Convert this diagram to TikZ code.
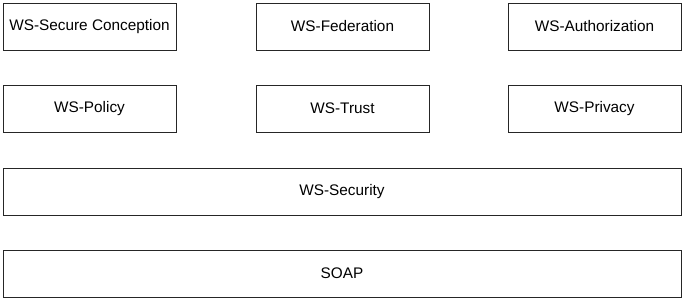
\documentclass[tikz,border=0pt]{standalone}
\usepackage{fontspec}
\setmainfont{Liberation Sans}
\usepackage{tikz}
\usetikzlibrary{positioning}

\begin{document}
\begin{tikzpicture}[x=0.75pt,y=-0.75pt,
  layerbox/.style={draw=black!85,line width=0.7pt,inner sep=0pt,
    minimum height=35.25pt,font=\fontsize{11.5}{14}\selectfont},
  smallbox/.style={layerbox,minimum width=129.75pt},
  widebox/.style={layerbox,minimum width=508.5pt}]
\useasboundingbox (0,0) rectangle (686,301);
% top row
\node[smallbox] (conception) at (89.5,26.5) {WS-Secure Conception};
\node[smallbox] (federation) at (342.5,26.5) {WS-Federation};
\node[smallbox] (authorization) at (594.5,26.5) {WS-Authorization};
% middle row
\node[smallbox] (policy) at (89.5,108.5) {WS-Policy};
\node[smallbox] (trust) at (342.5,108.5) {WS-Trust};
\node[smallbox] (privacy) at (594.5,108.5) {WS-Privacy};
% base layers
\node[widebox] (security) at (342,191.5) {WS-Security};
\node[widebox] (soap) at (342,273.5) {SOAP};
\end{tikzpicture}
\end{document}
